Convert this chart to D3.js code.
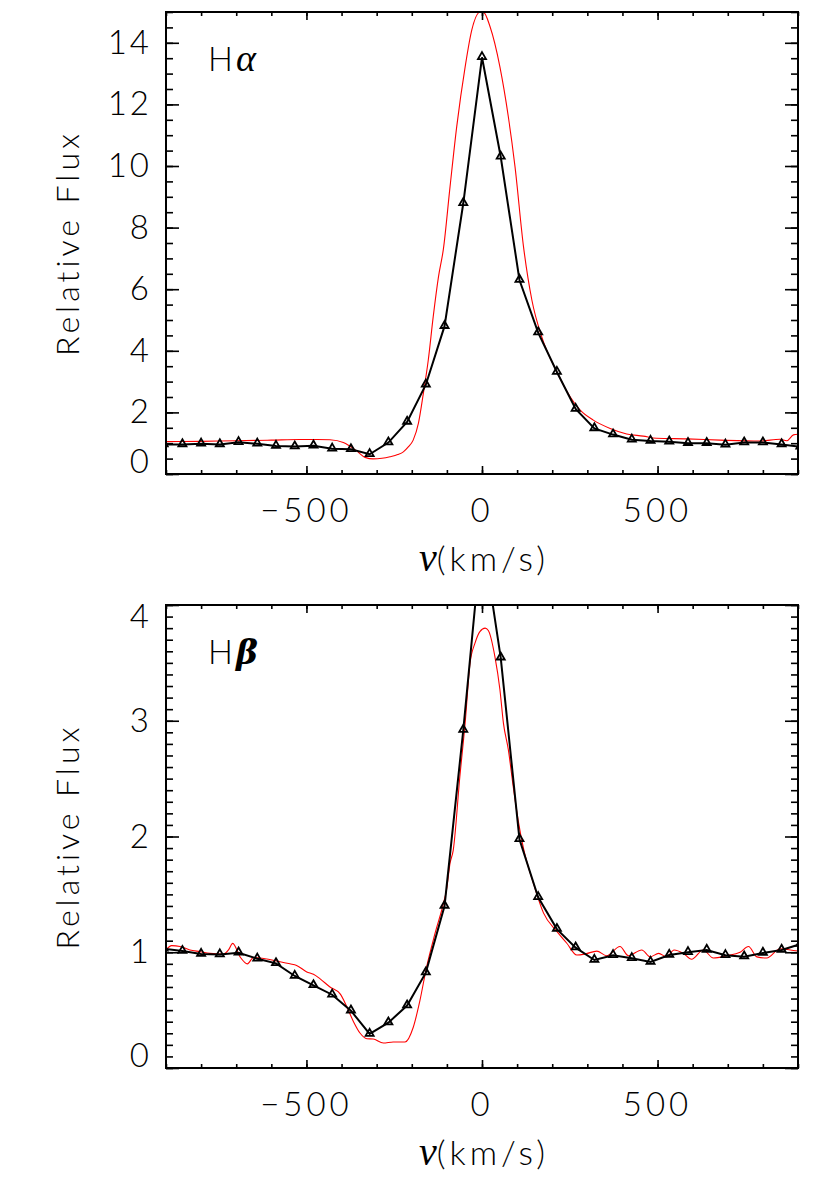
<!DOCTYPE html>
<html><head><meta charset="utf-8">
<script src="https://cdn.jsdelivr.net/npm/d3@7"></script>
<style>
body{margin:0;background:#fff;}
svg text{font-family:"Lato","DejaVu Sans",sans-serif;font-weight:300;fill:#000;}
</style></head>
<body><svg id="c" width="830" height="1188"></svg>
<script>
// ---- data ----
const velGrid = [-906.7,-853.3,-800,-746.7,-693.3,-640,-586.7,-533.3,-480,-426.7,-373.3,-320,-266.7,-213.3,-160,-106.7,-53.3,0,53.3,106.7,160,213.3,266.7,320,373.3,426.7,480,533.3,586.7,640,693.3,746.7,800,853.3,906.7];
const haObs = [0.96,0.96,0.98,0.96,1.03,0.98,0.91,0.89,0.92,0.82,0.80,0.64,1.02,1.69,2.90,4.80,8.79,13.53,10.30,6.30,4.59,3.31,2.11,1.48,1.28,1.11,1.07,1.05,1.00,1.00,0.95,1.02,1.02,0.96,0.88];
const hbObs = [1.03,1.01,0.985,0.98,0.996,0.944,0.904,0.795,0.714,0.633,0.495,0.294,0.392,0.539,0.824,1.40,2.92,4.62,3.545,1.976,1.475,1.20,1.04,0.933,0.974,0.948,0.916,0.976,1.0,1.02,0.974,0.962,0.994,1.02,1.07];

const haModelV = [-900,-800,-700,-600,-520,-470,-433,-395,-357,-333,-310,-285,-262,-240,-224,-210,-196,-181,-167,-153,-139,-124,-110,-91,-72,-48,-29,-6,5,23,51,75,94,118,142,170,213,251,279,317,365,412,459,497,583,678,792,849,868,887,900];
const haModelF = [1.05,1.06,1.08,1.10,1.12,1.12,1.11,1.02,0.75,0.54,0.49,0.51,0.56,0.63,0.72,0.88,1.10,1.65,2.62,3.70,5.10,6.40,7.30,9.33,11.28,13.22,14.42,14.99,14.98,14.52,13.22,11.6,9.98,7.40,5.65,4.46,3.32,2.51,2.08,1.75,1.48,1.30,1.23,1.16,1.14,1.10,1.07,1.13,1.08,1.27,1.29];

const hbModelV = [-899,-884,-860,-832,-803,-775,-737,-722,-710,-689,-668,-651,-618,-585,-547,-528,-499,-480,-461,-433,-404,-385,-366,-347,-328,-310,-281,-253,-219,-196,-177,-158,-134,-110,-101,-91,-82,-63,-48,-34,-20,-6,9,18,37,51,61,75,89,103,118,146,175,213,241,270,294,327,355,393,417,455,479,503,526,547,574,597,630,659,697,735,759,783,811,849,878,902];
const hbModelF = [1.025,1.057,1.05,1.02,1.005,0.99,0.984,1.02,1.077,0.96,0.90,0.955,0.944,0.924,0.90,0.886,0.83,0.81,0.77,0.70,0.64,0.53,0.40,0.30,0.253,0.25,0.216,0.225,0.225,0.35,0.58,0.87,1.16,1.42,1.54,1.77,1.88,2.52,2.98,3.50,3.67,3.77,3.80,3.78,3.55,3.27,2.98,2.75,2.43,2.14,1.90,1.60,1.34,1.18,1.08,0.976,0.985,1.01,0.97,1.05,0.97,1.02,0.96,0.99,0.96,1.02,0.99,0.94,1.02,0.95,0.97,1.0,1.05,0.96,0.95,1.03,1.02,1.01];

const xMajorTicks = [-500,0,500];
const xTickLabels = ["\u2212500","0","500"];
const haYTicks = [0,2,4,6,8,10,12,14];
const hbYTicks = [0,1,2,3,4];

const svg = d3.select("#c");

function panel(o){
  const x = d3.scaleLinear().domain([-900,900]).range([166,798]);
  const y = d3.scaleLinear().domain(o.yDomain).range([o.bottom,o.top]);
  const g = svg.append("g");
  const cid = "clip"+o.id;
  g.append("clipPath").attr("id",cid).append("rect")
    .attr("x",166).attr("y",o.top).attr("width",632).attr("height",o.bottom-o.top);
  const plot = g.append("g").attr("clip-path",`url(#${cid})`);

  const lineM = d3.line().x((d,i)=>x(o.mV[i])).y(d=>y(d)).curve(d3.curveMonotoneX);
  plot.append("path").datum(o.mF).attr("d",lineM).attr("fill","none").attr("stroke","#ff0000").attr("stroke-width",1.1);

  const lineO = d3.line().x((d,i)=>x(velGrid[i])).y(d=>y(d));
  plot.append("path").datum(o.obs).attr("d",lineO).attr("fill","none").attr("stroke","#000").attr("stroke-width",2);
  const tri = d3.symbol().type(d3.symbolTriangle).size(28);
  plot.selectAll("path.tri").data(o.obs).join("path").attr("class","tri")
    .attr("d",tri).attr("transform",(d,i)=>`translate(${x(velGrid[i])},${y(d)-0.5})`)
    .attr("fill","none").attr("stroke","#000").attr("stroke-width",1.8);

  // axes (inward ticks)
  const xMinor = d3.range(-900,901,100);
  const mk = (gen, tr) => { const a = g.append("g").attr("transform",tr).call(gen); a.select(".domain").remove(); a.selectAll("line").attr("stroke","#000").attr("stroke-width",1.6); return a; };
  mk(d3.axisBottom(x).tickValues(xMinor).tickSize(-4).tickFormat(""), `translate(0,${o.bottom})`);
  mk(d3.axisBottom(x).tickValues(xMajorTicks).tickSize(-8).tickFormat(""), `translate(0,${o.bottom})`);
  mk(d3.axisTop(x).tickValues(xMinor).tickSize(-4).tickFormat(""), `translate(0,${o.top})`);
  mk(d3.axisTop(x).tickValues(xMajorTicks).tickSize(-8).tickFormat(""), `translate(0,${o.top})`);
  mk(d3.axisLeft(y).tickValues(o.yMinor).tickSize(-7).tickFormat(""), `translate(166,0)`);
  mk(d3.axisLeft(y).tickValues(o.yTicks).tickSize(-13).tickFormat(""), `translate(166,0)`);
  mk(d3.axisRight(y).tickValues(o.yMinor).tickSize(-7).tickFormat(""), `translate(798,0)`);
  mk(d3.axisRight(y).tickValues(o.yTicks).tickSize(-13).tickFormat(""), `translate(798,0)`);

  // frame
  g.append("rect").attr("x",166).attr("y",o.top).attr("width",632).attr("height",o.bottom-o.top)
    .attr("fill","none").attr("stroke","#000").attr("stroke-width",2);

  // tick labels
  g.selectAll("text.xl").data(xMajorTicks).join("text").attr("class","xl")
    .attr("x",d=>x(d)).attr("y",o.bottom+48).attr("text-anchor","middle")
    .attr("font-size",33).attr("letter-spacing",4).text((d,i)=>xTickLabels[i]);
  g.selectAll("text.yl").data(o.yTicks).join("text").attr("class","yl")
    .attr("x",152).attr("y",d=>{let yy=y(d); if(yy>o.bottom-6) yy-=12; if(yy<o.top+6) yy+=12; return yy+11;})
    .attr("text-anchor","end").attr("font-size",33).attr("letter-spacing",3).text(d=>d);

  // axis titles
  const xt = g.append("text").attr("x",484).attr("y",o.bottom+97).attr("text-anchor","middle").attr("font-size",34);
  xt.append("tspan").attr("font-family","Liberation Serif").attr("font-style","italic").attr("font-weight",400).attr("font-size",40).text("v");
  xt.append("tspan").attr("letter-spacing",4).text("(km/s)");
  g.append("text").attr("transform",`translate(79,${(o.top+o.bottom)/2}) rotate(-90)`)
    .attr("text-anchor","middle").attr("font-size",32).attr("letter-spacing",4).text("Relative Flux");

  // line label
  const lt = g.append("text").attr("x",208).attr("y",o.top+59).attr("font-size",33);
  lt.append("tspan").text("H");
  lt.append("tspan").attr("font-family",o.greekBold?"DejaVu Serif":"Liberation Serif").attr("font-style","italic").attr("font-weight",o.greekBold?700:400).attr("font-size",o.greekBold?33:38).attr("dx",3).text(o.greek);
}

panel({id:"a",top:12,bottom:474,yDomain:[0,15],yTicks:haYTicks,yMinor:d3.range(0,15.01,0.5),obs:haObs,mV:haModelV,mF:haModelF,greek:"\u03b1",greekBold:false});
panel({id:"b",top:605,bottom:1068,yDomain:[0,4],yTicks:hbYTicks,yMinor:d3.range(0,4.001,0.1),obs:hbObs,mV:hbModelV,mF:hbModelF,greek:"\u03b2",greekBold:true});
</script></body></html>
